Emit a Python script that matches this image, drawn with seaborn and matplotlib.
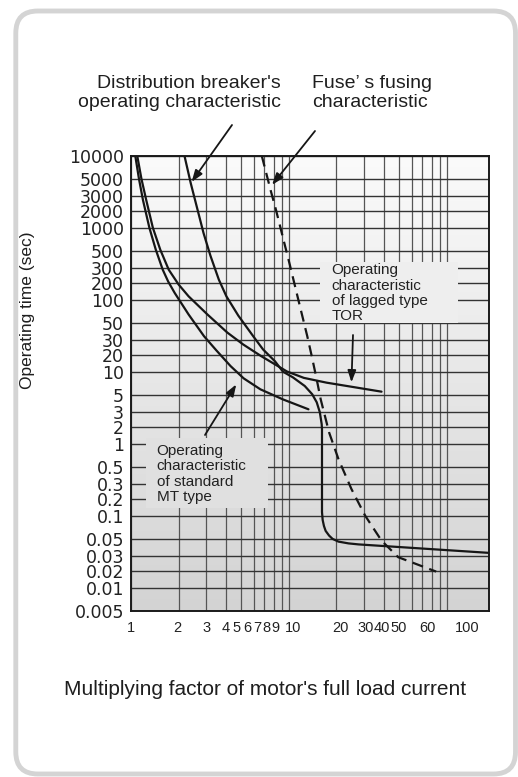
import numpy as np
import matplotlib
matplotlib.use("Agg")
import matplotlib.pyplot as plt
from matplotlib.colors import LinearSegmentedColormap
from matplotlib.patches import FancyBboxPatch, Rectangle
from matplotlib.transforms import IdentityTransform
from matplotlib.ticker import FixedLocator, FixedFormatter, NullFormatter, NullLocator
import seaborn as sns

sns.set_style("white")
plt.rcParams["font.family"] = ["Liberation Sans", "DejaVu Sans"]

W, H = 518, 777

# --- axis ticks ---------------------------------------------------------
X_TICKS = [1, 2, 3, 4, 5, 6, 7, 8, 9, 10, 20, 30, 40, 50, 60, 70, 80, 90, 100]
X_LABELS = ["1", "2", "3", "4", "5", "6", "7", "8", "9", "10",
            "20", "30", "40", "50", "60", "", "", "", "100"]
Y_TICKS = [10000, 5000, 3000, 2000, 1000, 500, 300, 200, 100, 50, 30, 20, 10,
           5, 3, 2, 1, 0.5, 0.3, 0.2, 0.1, 0.05, 0.03, 0.02, 0.01, 0.005]
Y_LABELS = [str(v) for v in Y_TICKS]

# --- curves (multiple of full load current, seconds) --------------------
MT_X = [1.064, 1.123, 1.19, 1.307, 1.436, 1.589, 1.721, 1.891, 2.317, 2.90,
        3.475, 4.27, 5.17, 6.6, 9.17, 13.3]
MT_Y = [10000, 5000, 2685, 1000, 515, 284, 208, 132.7, 64, 33.3,
        22.6, 12.65, 8.18, 5.88, 4.34, 3.22]

TOR_X = [1.095, 1.164, 1.248, 1.375, 1.533, 1.734, 2.004, 2.317, 3.05, 4.07,
         5.14, 6.67, 9.71, 12.43, 17.3, 38.6]
TOR_Y = [10000, 5000, 2685, 1000, 515, 284, 188, 115, 64, 37.2,
         26.4, 19.2, 10.1, 8.3, 7.19, 5.48]

BRK_X = [2.18, 2.39, 2.62, 2.88, 3.185, 3.60, 4.02, 4.78, 5.94, 6.86, 8.17,
         9.17, 10.6, 12.6, 14.05, 15.0, 15.7, 16.13, 16.2, 16.2, 16.36, 16.67,
         17.09, 17.97, 18.91, 20.6, 23.85, 27.6, 185]
BRK_Y = [10000, 4365, 2182, 850, 430, 219, 115, 62, 33.3, 23.2, 15.4,
         10, 8.43, 6.5, 5.07, 3.98, 2.95, 2.16, 1.83, 0.1166, 0.0878, 0.0733,
         0.0632, 0.0549, 0.0497, 0.0458, 0.0434, 0.0421, 0.0326]

FUSE_X = [6.73, 7.65, 8.28, 9.24, 10.07, 11.47, 13.07, 13.95, 15.0, 15.9,
          17.97, 20.6, 24.9, 30.4, 38.6, 49.2, 85.6]
FUSE_Y = [10000, 3570, 2070, 695, 345, 100, 33.3, 19.2, 7.93, 4.34,
          1.6, 0.628, 0.26, 0.1, 0.0472, 0.0288, 0.0196]

# hand-set label nudges of the original sheet (pixels)
X_LABEL_NUDGE = [0, -1, 0, 0, -4.5, -7, -7.5, -7, -6.5, 4,
                 3.5, 1, -2, -0.5, 16, 0, 0, 0, 20.5]

# y axis of the original sheet: log-like, but 2/3/5 rows set by hand
F_LOG = [0.0, np.log10(2), np.log10(3), np.log10(5), 1.0]
F_POS = [0.0, 0.23, 0.445, 0.68, 1.0]


def y_fwd(y):
    l = np.log10(np.clip(np.asarray(y, dtype=float), 1e-12, None))
    d = np.floor(l)
    return d + np.interp(l - d, F_LOG, F_POS)


def y_inv(p):
    p = np.asarray(p, dtype=float)
    d = np.floor(p)
    return 10 ** (d + np.interp(p - d, F_POS, F_LOG))


def fx(x):
    return x / W


def fy(y):
    return 1 - y / H


fig = plt.figure(figsize=(W / 100, H / 100), dpi=100)

frame = FancyBboxPatch((15.8, 3), 499.7, 763,
                       boxstyle="round,pad=0,rounding_size=22",
                       transform=IdentityTransform(), fc="white",
                       ec="#d4d4d4", lw=3.5, zorder=-1)
fig.add_artist(frame)

ax_rect = [fx(131), fy(610.7), (489 - 131) / W, (610.7 - 155.7) / H]

# gradient background behind the grid
bg = fig.add_axes(ax_rect, zorder=0)
grad = np.linspace(0, 1, 256).reshape(-1, 1)
cmap = LinearSegmentedColormap.from_list("paper", ["#fbfbfb", "#d3d3d3"])
bg.imshow(grad, aspect="auto", cmap=cmap, extent=(0, 1, 0, 1))
bg.axis("off")

ax = fig.add_axes(ax_rect, zorder=1)
ax.patch.set_visible(False)
ax.set_xscale("log")
ax.set_yscale("function", functions=(y_fwd, y_inv))

line_kw = dict(ax=ax, color="#161616", lw=1.6, sort=False, estimator=None)
sns.lineplot(x=MT_X, y=MT_Y, **line_kw)
sns.lineplot(x=TOR_X, y=TOR_Y, **line_kw)
sns.lineplot(x=BRK_X, y=BRK_Y, **line_kw)
sns.lineplot(x=FUSE_X, y=FUSE_Y, linestyle=(0, (5, 3)), **line_kw)

ax.set_xlim(1, 185)
ax.set_ylim(0.005, 10000)

ax.xaxis.set_major_locator(FixedLocator(X_TICKS))
ax.xaxis.set_major_formatter(NullFormatter())
ax.xaxis.set_minor_locator(NullLocator())
ax.yaxis.set_major_locator(FixedLocator(Y_TICKS))
ax.yaxis.set_major_formatter(FixedFormatter(Y_LABELS))
ax.yaxis.set_minor_locator(NullLocator())
ax.tick_params(length=0)
ax.tick_params(axis="y", labelsize=12.5, pad=5, labelcolor="#222",
               labelfontfamily="DejaVu Sans")
ax.set_xlabel("")
ax.set_ylabel("")

# x labels sit where the original sheet put them
for v, lab, dx in zip(X_TICKS, X_LABELS, X_LABEL_NUDGE):
    if lab:
        ax.annotate(lab, xy=(v, 0), xycoords=("data", "axes fraction"),
                    xytext=(dx, -10), textcoords="offset pixels",
                    ha="center", va="top", fontsize=10.5, color="#222",
                    annotation_clip=False)

ax.set_axisbelow(True)
ax.grid(True, axis="y", color="#333333", lw=1.0)
ax.grid(True, axis="x", color="#555555", lw=0.9)
for s in ax.spines.values():
    s.set_visible(True)
    s.set_color("#1a1a1a")
    s.set_linewidth(1.4)

# label boxes hide the grid behind the notes
for (x0, y0, x1, y1, c) in [(320, 262, 458, 323, "#eeeeee"),
                            (146, 438, 268, 508, "#e0e0e0")]:
    ax.add_patch(Rectangle((fx(x0), fy(y1)), fx(x1) - fx(x0), fy(y0) - fy(y1),
                           transform=fig.transFigure, fc=c, ec="none", zorder=1))

note_kw = dict(fontsize=11, color="#222", linespacing=1.12, va="top", ha="left", zorder=5)
fig.text(fx(331.7), fy(263.3), "Operating\ncharacteristic\nof lagged type\nTOR", **note_kw)
fig.text(fx(156.7), fy(444), "Operating\ncharacteristic\nof standard\nMT type", **note_kw)

fig.text(fx(281), fy(75), "Distribution breaker's\noperating characteristic",
         ha="right", va="top", multialignment="right", fontsize=14,
         linespacing=1.12, color="#1e1e1e")
fig.text(fx(312), fy(75), "Fuse\u2019 s fusing\ncharacteristic",
         ha="left", va="top", fontsize=14, linespacing=1.12, color="#1e1e1e")

fig.text(fx(28), fy(310), "Operating time (sec)", rotation=90,
         ha="center", va="center", fontsize=12.5, color="#1e1e1e")
fig.text(fx(265.5), fy(695), "Multiplying factor of motor's full load current",
         ha="center", va="baseline", fontsize=15, color="#1e1e1e")

arrow = dict(arrowstyle="-|>,head_length=0.7,head_width=0.25", color="#161616",
             lw=1.3, shrinkA=0, shrinkB=0)
for tip, tail in [((2.42, 4540), (232, 125)),
                  ((7.82, 4150), (315, 131)),
                  ((24.9, 7.26), (353, 335)),
                  ((4.64, 6.82), (205, 435))]:
    ax.annotate("", xy=tip, xycoords="data", xytext=(tail[0], H - tail[1]),
                textcoords="figure pixels", arrowprops=arrow, zorder=6)

fig.savefig("out.png", dpi=100)
